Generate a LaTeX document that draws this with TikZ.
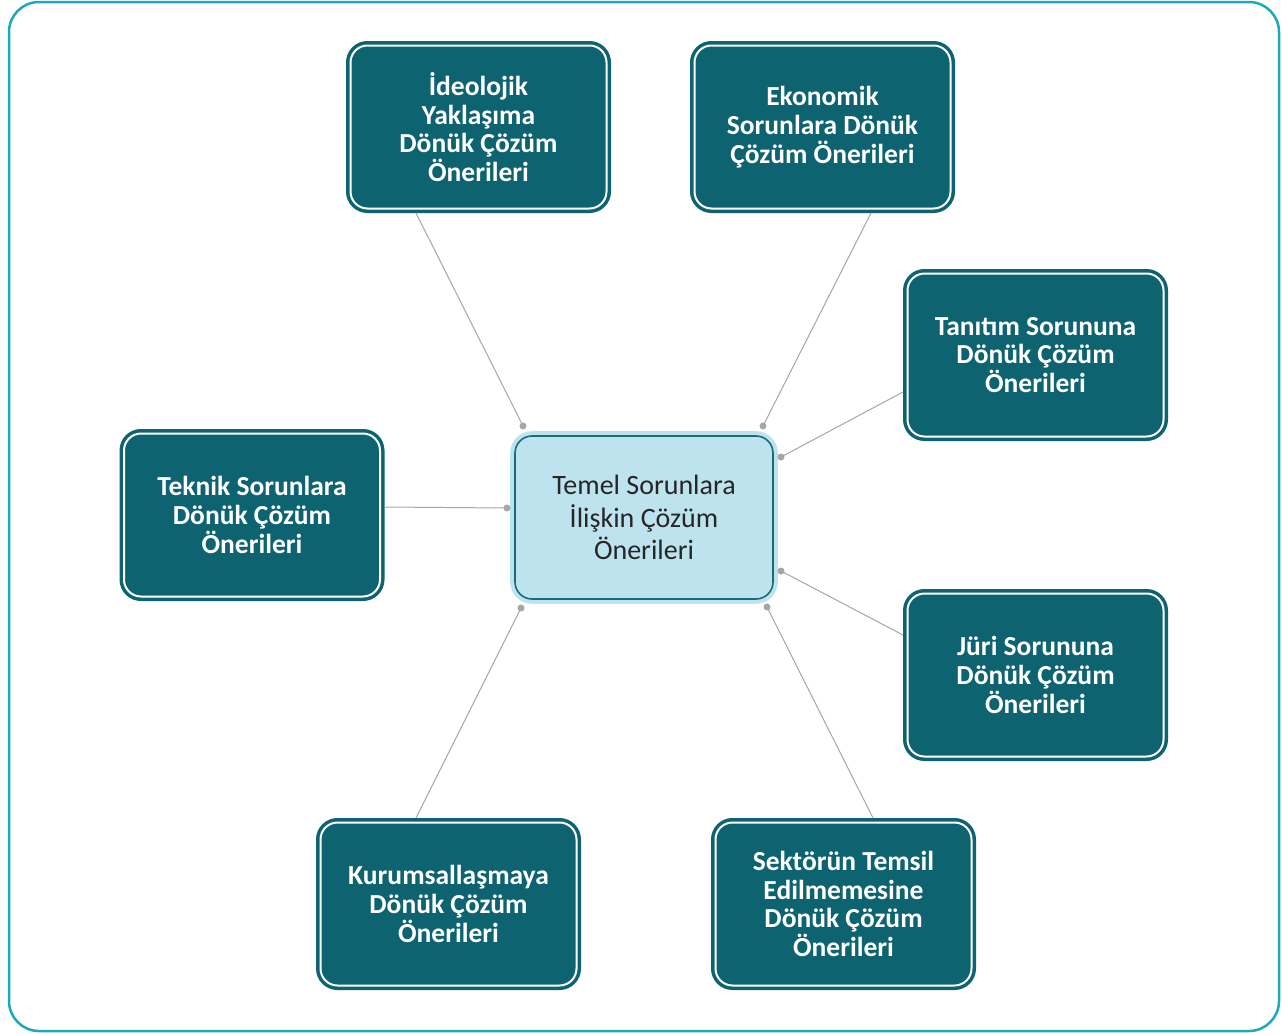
\documentclass[tikz,border=0pt]{standalone}
\usepackage{fontspec}
\setmainfont{Carlito}
\definecolor{darkteal}{HTML}{0E6371}
\definecolor{frameteal}{HTML}{1BAAB7}
\definecolor{lightblue}{HTML}{BDE3EF}
\definecolor{cborder}{HTML}{1D6B79}
\definecolor{lgray}{HTML}{A6A6A6}
\tikzset{
  sbox/.style={fill=darkteal, draw=darkteal, double=white, line width=3.5pt, double distance=2pt,
    rounded corners=17pt, minimum width=256pt, minimum height=163pt, text=white,
    font=\fontsize{27.5}{28.8}\selectfont\bfseries, align=center, inner sep=0pt},
  cbox/.style={fill=lightblue, draw=lightblue, double=cborder, line width=4pt, double distance=1.6pt,
    rounded corners=17pt, minimum width=258pt, minimum height=163pt, text=black!85,
    font=\fontsize{28}{32.3}\selectfont, align=center, inner sep=0pt},
  conn/.style={draw=lgray, line width=1pt},
  cdot/.style={fill=lgray, draw=none}
}
\begin{document}
\begin{tikzpicture}[x=1pt,y=-1pt]
\useasboundingbox (0,0) rectangle (1282,1034);
\draw[frameteal, line width=2.5pt, rounded corners=30pt] (9,2) rectangle (1279,1031);

\node[cbox] (center) at (644,517.5) {Temel Sorunlara\\İlişkin Çözüm\\Önerileri};
\node[sbox] (ideo) at (478.5,127) {İdeolojik\\Yaklaşıma\\Dönük Çözüm\\Önerileri};
\node[sbox] (ekon) at (822.5,127) {Ekonomik\\Sorunlara Dönük\\Çözüm Önerileri};
\node[sbox] (tanit) at (1035.5,355) {Tanıtım Sorununa\\Dönük Çözüm\\Önerileri};
\node[sbox] (juri) at (1035.5,675) {Jüri Sorununa\\Dönük Çözüm\\Önerileri};
\node[sbox] (sektor) at (843.5,904) {Sektörün Temsil\\Edilmemesine\\Dönük Çözüm\\Önerileri};
\node[sbox] (kurum) at (448.5,904) {Kurumsallaşmaya\\Dönük Çözüm\\Önerileri};
\node[sbox] (teknik) at (252,515) {Teknik Sorunlara\\Dönük Çözüm\\Önerileri};

% connector end points
\coordinate (ideoS) at (416,213);   \coordinate (ideoD) at (523,426);
\coordinate (ekonS) at (871,213);   \coordinate (ekonD) at (763,426);
\coordinate (tanitS) at (903,392);  \coordinate (tanitD) at (781,457);
\coordinate (juriS) at (903,635);   \coordinate (juriD) at (781,571);
\coordinate (sektorS) at (873,818); \coordinate (sektorD) at (767,607);
\coordinate (kurumS) at (416,818);  \coordinate (kurumD) at (521,608);
\coordinate (teknikS) at (385,507); \coordinate (teknikD) at (507,508);

\foreach \n in {ideo,ekon,tanit,juri,sektor,kurum,teknik}{
  \draw[conn] (\n S) -- (\n D);
  \fill[cdot] (\n D) circle (3.5pt);
}
\end{tikzpicture}
\end{document}
